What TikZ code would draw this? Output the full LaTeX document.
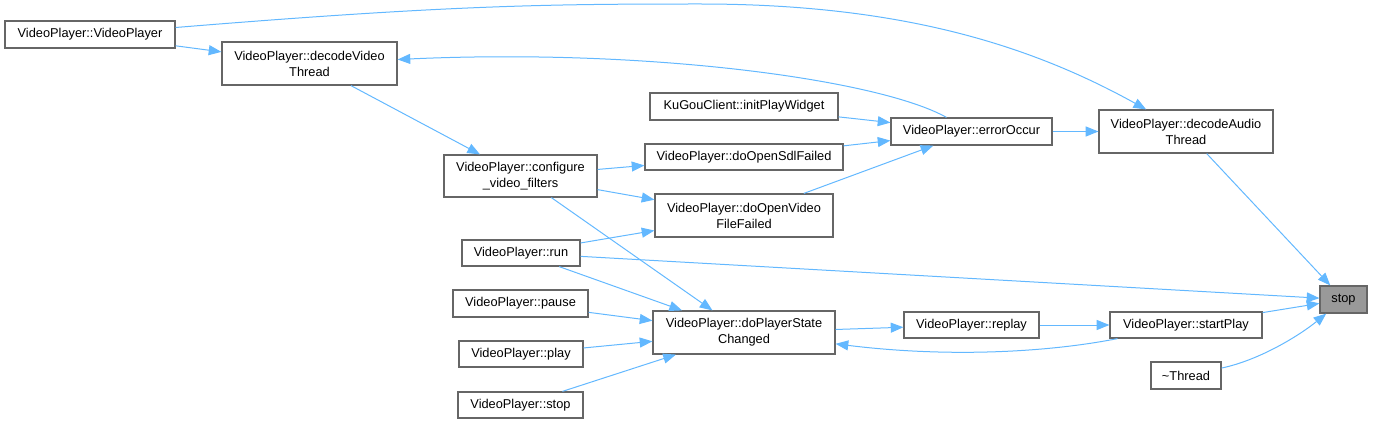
\documentclass[tikz,border=0pt]{standalone}
\usepackage{fontspec}
\setmainfont{Liberation Sans}
\usetikzlibrary{arrows.meta}
\definecolor{edge}{HTML}{63B8FF}
\definecolor{bord}{HTML}{666666}
\definecolor{rootfill}{HTML}{999999}
\tikzset{
  box/.style 2 args={draw=bord, line width=0.9pt, fill=white, inner sep=0pt, align=center,
    minimum width=#1*0.75pt, minimum height=#2*0.75pt,
    font=\fontsize{9.6pt}{12pt}\selectfont},
  rootbox/.style 2 args={box={#1}{#2}, fill=rootfill},
  call/.style={draw=edge, line width=0.75pt, -{Triangle[length=9.5pt,width=7.5pt]}},
}
\begin{document}
\begin{tikzpicture}[x=0.75pt,y=-0.75pt]
\useasboundingbox (0,0) rectangle (1374,424);
% nodes
\node[box={170}{27}] (VP) at (90,34.5) {VideoPlayer::VideoPlayer};
\node[box={175}{43}] (dVT) at (309.5,63.5) {VideoPlayer::decodeVideo\\Thread};
\node[box={153}{42}] (conf) at (520.5,176) {VideoPlayer::configure\\\_video\_filters};
\node[box={188}{27}] (init) at (744,106.5) {KuGouClient::initPlayWidget};
\node[box={198}{26}] (sdl) at (744,157) {VideoPlayer::doOpenSdlFailed};
\node[box={178}{43}] (vff) at (744,215.5) {VideoPlayer::doOpenVideo\\FileFailed};
\node[box={161}{27}] (err) at (971.5,131.5) {VideoPlayer::errorOccur};
\node[box={174}{43}] (dAT) at (1186,131.5) {VideoPlayer::decodeAudio\\Thread};
\node[rootbox={47}{27}] (stop) at (1343.5,299.5) {stop};
\node[box={118}{26}] (run) at (521,253) {VideoPlayer::run};
\node[box={135}{27}] (pause) at (520.5,303.5) {VideoPlayer::pause};
\node[box={124}{26}] (play) at (521,354) {VideoPlayer::play};
\node[box={125}{26}] (vstop) at (520.5,405) {VideoPlayer::stop};
\node[box={182}{43}] (dPSC) at (744,332.5) {VideoPlayer::doPlayerState\\Changed};
\node[box={135}{26}] (replay) at (971.5,325) {VideoPlayer::replay};
\node[box={152}{26}] (sP) at (1186,325) {VideoPlayer::startPlay};
\node[box={70}{27}] (thr) at (1186,375.5) {\textasciitilde Thread};
% edges
\draw[call] (VP) -- (dVT);
\draw[call] (VP) .. controls (450,5) and (550,4) .. (700,4) .. controls (900,4) and (1030,45) .. (dAT);
\draw[call] (err) .. controls (880,80) and (650,48) .. (dVT);
\draw[call] (dVT) -- (conf);
\draw[call] (conf) -- (sdl);
\draw[call] (conf) -- (vff);
\draw[call] (conf) -- (dPSC);
\draw[call] (init) -- (err);
\draw[call] (sdl) -- (err);
\draw[call] (vff) -- (err);
\draw[call] (err) -- (dAT);
\draw[call] (dAT) -- (stop);
\draw[call] (run) -- (vff);
\draw[call] (run) -- (stop);
\draw[call] (run) -- (dPSC);
\draw[call] (pause) -- (dPSC);
\draw[call] (play) -- (dPSC);
\draw[call] (vstop) -- (dPSC);
\draw[call] (dPSC) -- (replay);
\draw[call] (replay) -- (sP);
\draw[call] (sP) .. controls (1050,352) and (950,358) .. (dPSC);
\draw[call] (sP) -- (stop);
\draw[call] (thr) .. controls (1260,360) and (1300,335) .. (stop);
\end{tikzpicture}
\end{document}
